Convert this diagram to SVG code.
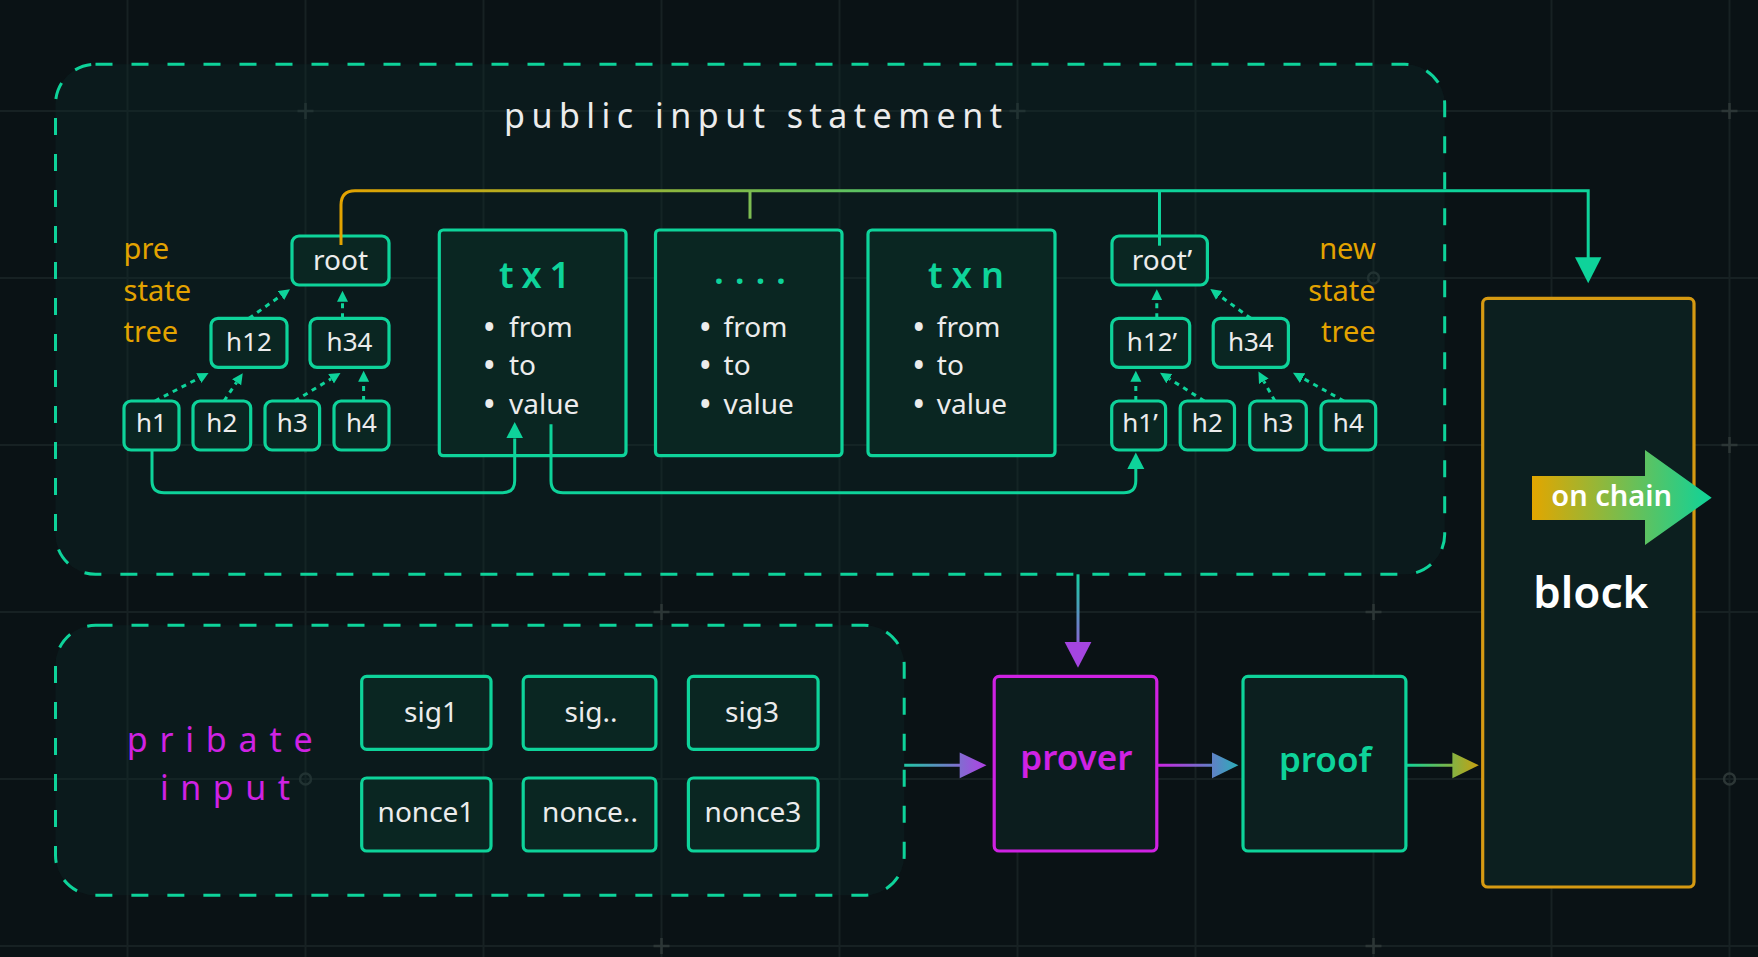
<svg xmlns="http://www.w3.org/2000/svg" width="1758" height="957" viewBox="0 0 1758 957">
<defs>
<style>
.grid{stroke:#172123;stroke-width:2;fill:none}
.mark{stroke:#2c3636;stroke-width:2.5;fill:none}
.panel{fill:#0d2a2a;fill-opacity:0.35;stroke:#0ED39A;stroke-width:3;stroke-dasharray:17 19}
.node rect{fill:#0a2622;stroke:#0ED39A;stroke-width:3.2}
.lbl{font-family:"Noto Sans","Liberation Sans",sans-serif;fill:#ececec;text-anchor:middle}
.sm{font-size:26px}
.md{font-size:28px}
.bul{font-family:"Noto Sans","Liberation Sans",sans-serif;font-size:28px;fill:#ececec}
.bd{font-weight:700}
.ttl{font-family:"Noto Sans","Liberation Sans",sans-serif;font-size:36px;font-weight:600;fill:#0ED39A}
.side{font-family:"Noto Sans","Liberation Sans",sans-serif;font-size:29px;fill:#E3A300}
.dot{stroke:#0ED39A;stroke-width:3;stroke-dasharray:5 5;fill:none}
.con{stroke:#0ED39A;stroke-width:3;fill:none}
</style>
<marker id="ahs" markerUnits="userSpaceOnUse" markerWidth="12" markerHeight="12" refX="0" refY="5.5" orient="auto">
<path d="M0,0 L11,5.5 L0,11 z" fill="#0ED39A"/>
</marker>
<marker id="ah" markerUnits="userSpaceOnUse" markerWidth="18" markerHeight="18" refX="0" refY="8.5" orient="auto">
<path d="M0,0 L16.5,8.5 L0,17 z" fill="#0ED39A"/>
</marker>
<linearGradient id="gTop" gradientUnits="userSpaceOnUse" x1="341" y1="0" x2="1160" y2="0">
<stop offset="0" stop-color="#E3A300"/>
<stop offset="1" stop-color="#0ED39A"/>
</linearGradient>
<linearGradient id="gDown" gradientUnits="userSpaceOnUse" x1="0" y1="574" x2="0" y2="668">
<stop offset="0" stop-color="#14CFA0"/>
<stop offset="1" stop-color="#B23FE6"/>
</linearGradient>
<linearGradient id="gPriv" gradientUnits="userSpaceOnUse" x1="904" y1="0" x2="987" y2="0">
<stop offset="0" stop-color="#1FC8A4"/>
<stop offset="1" stop-color="#B23FE6"/>
</linearGradient>
<linearGradient id="gProv" gradientUnits="userSpaceOnUse" x1="1157" y1="0" x2="1239" y2="0">
<stop offset="0" stop-color="#CF22E3"/>
<stop offset="1" stop-color="#2AAFB8"/>
</linearGradient>
<linearGradient id="gProof" gradientUnits="userSpaceOnUse" x1="1406" y1="0" x2="1479" y2="0">
<stop offset="0" stop-color="#0ED39A"/>
<stop offset="1" stop-color="#C8A010"/>
</linearGradient>
<linearGradient id="gChain" gradientUnits="userSpaceOnUse" x1="1532" y1="0" x2="1712" y2="0">
<stop offset="0" stop-color="#E2A600"/>
<stop offset="1" stop-color="#0ED39A"/>
</linearGradient>
</defs>

<rect x="0" y="0" width="1758" height="957" fill="#0a1215"/>

<g id="grid">
<path class="grid" d="M127.5,0V957M305.5,0V957M483.5,0V957M661.5,0V957M839.5,0V957M1017.5,0V957M1195.5,0V957M1373.5,0V957M1551.5,0V957M1729.5,0V957M0,111H1758M0,278H1758M0,445H1758M0,612H1758M0,779H1758M0,946H1758"/>
<path class="mark" d="M297.5,111h16M305.5,103v16M1009.5,111h16M1017.5,103v16M1721.5,111h16M1729.5,103v16M297.5,445h16M305.5,437v16M1009.5,445h16M1017.5,437v16M1721.5,445h16M1729.5,437v16M653.5,612h16M661.5,604v16M1365.5,612h16M1373.5,604v16M653.5,946h16M661.5,938v16M1365.5,946h16M1373.5,938v16"/>
<circle class="mark" cx="661.5" cy="278" r="5.5"/>
<circle class="mark" cx="1373.5" cy="278" r="5.5"/>
<circle class="mark" cx="305.5" cy="779" r="5.5"/>
<circle class="mark" cx="1017.5" cy="779" r="5.5"/>
<circle class="mark" cx="1729.5" cy="779" r="5.5"/>
</g>

<g id="public-panel">
<rect class="panel" x="55.5" y="64.3" width="1389.2" height="510" rx="40"/>
<text x="504" y="128.3" font-family="'Noto Sans','Liberation Sans',sans-serif" font-size="34" fill="#ececec" textLength="498" lengthAdjust="spacing">public input statement</text>
</g>

<g id="private-panel">
<rect class="panel" x="55.5" y="625.3" width="848.7" height="270" rx="40"/>
<text x="126.7" y="752.3" font-family="'Noto Sans','Liberation Sans',sans-serif" font-size="34" fill="#CF22E3" textLength="186" lengthAdjust="spacing">pribate</text>
<text x="160" y="800" font-family="'Noto Sans','Liberation Sans',sans-serif" font-size="34" fill="#CF22E3" textLength="130" lengthAdjust="spacing">input</text>
</g>

<g id="pre-state-tree-label">
<text class="side" x="123.6" y="259.3">pre</text>
<text class="side" x="123.6" y="301">state</text>
<text class="side" x="123.6" y="342.3">tree</text>
</g>
<g id="new-state-tree-label">
<text class="side" x="1375.7" y="259.3" text-anchor="end">new</text>
<text class="side" x="1375.7" y="301" text-anchor="end">state</text>
<text class="side" x="1375.7" y="342.3" text-anchor="end">tree</text>
</g>

<g id="root" class="node"><rect x="292" y="236" width="97" height="49" rx="7"/><text class="lbl md" x="340.5" y="269.5">root</text></g>
<g id="h12" class="node"><rect x="211" y="318.3" width="76" height="49" rx="7"/><text class="lbl sm" x="249" y="350.7">h12</text></g>
<g id="h34" class="node"><rect x="310" y="318.3" width="79" height="49" rx="7"/><text class="lbl sm" x="349.5" y="350.7">h34</text></g>
<g id="h1" class="node"><rect x="124" y="401" width="55" height="49" rx="7"/><text class="lbl sm" x="151.5" y="432.3">h1</text></g>
<g id="h2" class="node"><rect x="193" y="401" width="57.7" height="49" rx="7"/><text class="lbl sm" x="221.8" y="432.3">h2</text></g>
<g id="h3" class="node"><rect x="265" y="401" width="54.6" height="49" rx="7"/><text class="lbl sm" x="292.3" y="432.3">h3</text></g>
<g id="h4" class="node"><rect x="334" y="401" width="55" height="49" rx="7"/><text class="lbl sm" x="361.5" y="432.3">h4</text></g>

<g id="tx1" class="node">
<rect x="439.3" y="230" width="186.7" height="225.7" rx="4"/>
<text class="ttl" x="499" y="288.3" textLength="71" lengthAdjust="spacing">tx1</text>
<text class="bul" x="484" y="336.7"><tspan class="bd">•</tspan><tspan x="509">from</tspan></text>
<text class="bul" x="484" y="375"><tspan class="bd">•</tspan><tspan x="509">to</tspan></text>
<text class="bul" x="484" y="414.3"><tspan class="bd">•</tspan><tspan x="509">value</tspan></text>
</g>
<g id="txdots" class="node">
<rect x="655.5" y="230" width="186.5" height="225.7" rx="4"/>
<text class="ttl" x="714" y="284" textLength="72" lengthAdjust="spacing">....</text>
<text class="bul" x="700" y="336.7"><tspan class="bd">•</tspan><tspan x="723.6">from</tspan></text>
<text class="bul" x="700" y="375"><tspan class="bd">•</tspan><tspan x="723.6">to</tspan></text>
<text class="bul" x="700" y="414.3"><tspan class="bd">•</tspan><tspan x="723.6">value</tspan></text>
</g>
<g id="txn" class="node">
<rect x="868" y="230" width="187" height="225.7" rx="4"/>
<text class="ttl" x="928" y="288.3" textLength="76" lengthAdjust="spacing">txn</text>
<text class="bul" x="913.5" y="336.7"><tspan class="bd">•</tspan><tspan x="936.8">from</tspan></text>
<text class="bul" x="913.5" y="375"><tspan class="bd">•</tspan><tspan x="936.8">to</tspan></text>
<text class="bul" x="913.5" y="414.3"><tspan class="bd">•</tspan><tspan x="936.8">value</tspan></text>
</g>

<g id="root-new" class="node"><rect x="1112" y="236" width="95.4" height="49" rx="7"/><text class="lbl md" x="1162" y="269.5">root’</text></g>
<g id="h12-new" class="node"><rect x="1111.7" y="318.3" width="78" height="49" rx="7"/><text class="lbl sm" x="1152" y="350.7">h12’</text></g>
<g id="h34-new" class="node"><rect x="1213.2" y="318.3" width="75.2" height="49" rx="7"/><text class="lbl sm" x="1250.8" y="350.7">h34</text></g>
<g id="h1-new" class="node"><rect x="1111.7" y="401" width="53.9" height="49" rx="7"/><text class="lbl sm" x="1140" y="432.3">h1’</text></g>
<g id="h2-new" class="node"><rect x="1180.2" y="401" width="54.3" height="49" rx="7"/><text class="lbl sm" x="1207.3" y="432.3">h2</text></g>
<g id="h3-new" class="node"><rect x="1249.7" y="401" width="56.6" height="49" rx="7"/><text class="lbl sm" x="1278" y="432.3">h3</text></g>
<g id="h4-new" class="node"><rect x="1321" y="401" width="54.7" height="49" rx="7"/><text class="lbl sm" x="1348.3" y="432.3">h4</text></g>

<g id="sig1" class="node"><rect x="361.7" y="676.3" width="129.3" height="73" rx="5"/><text class="lbl md" x="431" y="722">sig1</text></g>
<g id="sig-dots" class="node"><rect x="523.2" y="676.3" width="132.7" height="73" rx="5"/><text class="lbl md" x="591" y="722">sig..</text></g>
<g id="sig3" class="node"><rect x="688.4" y="676.3" width="129.7" height="73" rx="5"/><text class="lbl md" x="752" y="722">sig3</text></g>
<g id="nonce1" class="node"><rect x="361.7" y="778" width="129.3" height="73" rx="5"/><text class="lbl md" x="426" y="822">nonce1</text></g>
<g id="nonce-dots" class="node"><rect x="523.2" y="778" width="132.7" height="73" rx="5"/><text class="lbl md" x="590" y="822">nonce..</text></g>
<g id="nonce3" class="node"><rect x="688.4" y="778" width="129.7" height="73" rx="5"/><text class="lbl md" x="753" y="822">nonce3</text></g>

<g id="prover">
<rect x="994.2" y="676.3" width="162.6" height="174.7" rx="5" fill="#0c1d1e" stroke="#CF22E3" stroke-width="3.2"/>
<text x="1076.3" y="770.3" font-family="'Noto Sans','Liberation Sans',sans-serif" font-size="35" font-weight="600" fill="#CF22E3" text-anchor="middle">prover</text>
</g>
<g id="proof">
<rect x="1243" y="676.3" width="162.9" height="174.7" rx="5" fill="#0c1f1f" stroke="#0ED39A" stroke-width="3.2"/>
<text x="1325.2" y="772" font-family="'Noto Sans','Liberation Sans',sans-serif" font-size="35" font-weight="600" fill="#0ED39A" text-anchor="middle">proof</text>
</g>
<g id="block">
<rect x="1482.7" y="298.3" width="211.3" height="588.7" rx="5" fill="#0c1f1f" stroke="#D69A12" stroke-width="3.2"/>
<text x="1590.8" y="608.3" font-family="'Noto Sans','Liberation Sans',sans-serif" font-size="44" font-weight="600" fill="#ffffff" text-anchor="middle">block</text>
</g>
<g id="on-chain">
<polygon points="1532,476 1645,476 1645,450 1711.7,497.7 1645,545 1645,520 1532,520" fill="url(#gChain)"/>
<text x="1611.7" y="506" font-family="'Noto Sans','Liberation Sans',sans-serif" font-size="29" font-weight="600" fill="#ffffff" text-anchor="middle">on chain</text>
</g>

<g id="connectors">
<path class="dot" d="M155,401 L198.8,378.2" marker-end="url(#ahs)"/>
<path class="dot" d="M224,401 L236.6,382.3" marker-end="url(#ahs)"/>
<path class="dot" d="M294.7,401 L331.1,378.8" marker-end="url(#ahs)"/>
<path class="dot" d="M363.6,401 L363.6,381.7" marker-end="url(#ahs)"/>
<path class="dot" d="M249,318.3 L281,295.6" marker-end="url(#ahs)"/>
<path class="dot" d="M342.5,318.3 L342.5,301.7" marker-end="url(#ahs)"/>
<path class="dot" d="M1156.8,318.3 L1156.8,300.3" marker-end="url(#ahs)"/>
<path class="dot" d="M1250.8,318.3 L1219.2,295.4" marker-end="url(#ahs)"/>
<path class="dot" d="M1135.8,401 L1135.8,381.7" marker-end="url(#ahs)"/>
<path class="dot" d="M1204.3,401 L1169.3,378.7" marker-end="url(#ahs)"/>
<path class="dot" d="M1274.9,401 L1263.8,381.2" marker-end="url(#ahs)"/>
<path class="dot" d="M1343.9,401 L1302.6,378.1" marker-end="url(#ahs)"/>

<path class="con" d="M152,450 V480.7 Q152,492.7 164,492.7 H502.7 Q514.7,492.7 514.7,480.7 V438.4" marker-end="url(#ah)"/>
<path class="con" d="M551,424.3 V480.7 Q551,492.7 563,492.7 H1123.8 Q1135.8,492.7 1135.8,480.7 V469" marker-end="url(#ah)"/>

<path d="M341,245 V205 Q341,190.7 355,190.7 H1588.2 V258" fill="none" stroke="url(#gTop)" stroke-width="3"/>
<path d="M750,190.7 V218.7" fill="none" stroke="#7EBE52" stroke-width="3"/>
<path d="M1159.5,190.7 V245.7" fill="none" stroke="#0ED39A" stroke-width="3"/>
<polygon points="1575,257.3 1601.4,257.3 1588.2,283.3" fill="#0ED39A"/>

<path d="M1078,574.3 V643" fill="none" stroke="url(#gDown)" stroke-width="3"/>
<polygon points="1064.6,642 1091.4,642 1078,667.7" fill="#A445E0"/>
<path d="M904.2,765.3 H960.7" fill="none" stroke="url(#gPriv)" stroke-width="3"/>
<polygon points="959.7,752.5 959.7,778.2 986.5,765.3" fill="url(#gPriv)"/>
<path d="M1156.8,765.3 H1213" fill="none" stroke="url(#gProv)" stroke-width="3"/>
<polygon points="1212,752.5 1212,778.2 1238.4,765.3" fill="url(#gProv)"/>
<path d="M1405.9,765.3 H1453.4" fill="none" stroke="url(#gProof)" stroke-width="3"/>
<polygon points="1452.4,752.5 1452.4,778.2 1478.8,765.3" fill="url(#gProof)"/>
</g>
</svg>
